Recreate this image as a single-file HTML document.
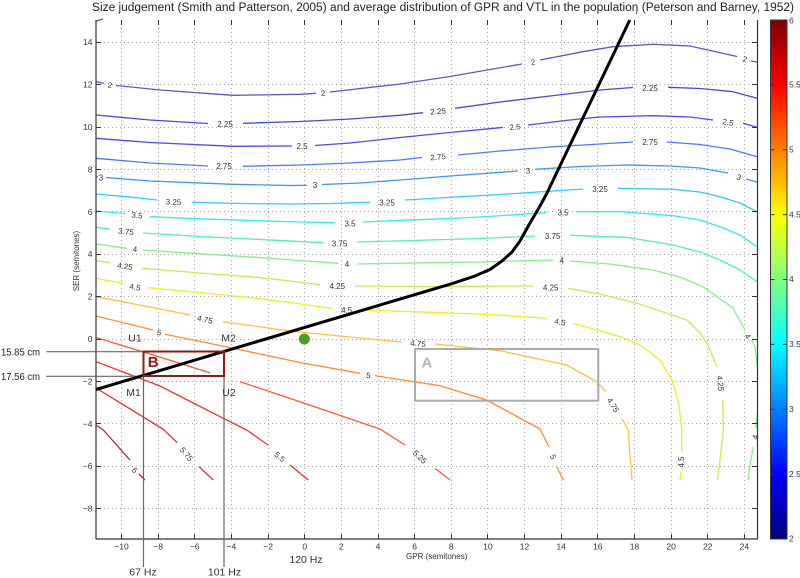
<!DOCTYPE html>
<html><head><meta charset="utf-8"><style>
html,body{margin:0;padding:0;background:#fff;}
svg{display:block;}
text{font-family:"Liberation Sans",sans-serif;}
.t{font-size:8.5px;fill:#333;}
.cl{font-size:8px;fill:#333;}
.c{fill:none;stroke-width:1.3;stroke-linejoin:round;}
</style></head><body>
<svg width="800" height="578" viewBox="0 0 800 578" xmlns="http://www.w3.org/2000/svg">
<defs>
<linearGradient id="jet" x1="0" y1="1" x2="0" y2="0">
<stop offset="0" stop-color="#000080"/>
<stop offset="0.125" stop-color="#0000ff"/>
<stop offset="0.375" stop-color="#00ffff"/>
<stop offset="0.625" stop-color="#ffff00"/>
<stop offset="0.875" stop-color="#ff0000"/>
<stop offset="1" stop-color="#800000"/>
</linearGradient>
</defs>
<rect width="800" height="578" fill="#fff"/>

<!-- title -->
<text x="92" y="11" font-size="11.5" fill="#222" textLength="702" lengthAdjust="spacingAndGlyphs">Size judgement (Smith and Patterson, 2005) and average distribution of GPR and VTL in the population (Peterson and Barney, 1952)</text>

<!-- grid -->
<g stroke="#a8a8a8" stroke-width="1" stroke-dasharray="1 3">
<line x1="121.5" y1="20" x2="121.5" y2="539"/>
<line x1="158.5" y1="20" x2="158.5" y2="539"/>
<line x1="194.5" y1="20" x2="194.5" y2="539"/>
<line x1="231.5" y1="20" x2="231.5" y2="539"/>
<line x1="268.5" y1="20" x2="268.5" y2="539"/>
<line x1="304.5" y1="20" x2="304.5" y2="539"/>
<line x1="341.5" y1="20" x2="341.5" y2="539"/>
<line x1="378.5" y1="20" x2="378.5" y2="539"/>
<line x1="414.5" y1="20" x2="414.5" y2="539"/>
<line x1="451.5" y1="20" x2="451.5" y2="539"/>
<line x1="487.5" y1="20" x2="487.5" y2="539"/>
<line x1="524.5" y1="20" x2="524.5" y2="539"/>
<line x1="561.5" y1="20" x2="561.5" y2="539"/>
<line x1="597.5" y1="20" x2="597.5" y2="539"/>
<line x1="634.5" y1="20" x2="634.5" y2="539"/>
<line x1="671.5" y1="20" x2="671.5" y2="539"/>
<line x1="707.5" y1="20" x2="707.5" y2="539"/>
<line x1="744.5" y1="20" x2="744.5" y2="539"/>
<line x1="96" y1="42.5" x2="757" y2="42.5"/>
<line x1="96" y1="84.5" x2="757" y2="84.5"/>
<line x1="96" y1="127.5" x2="757" y2="127.5"/>
<line x1="96" y1="169.5" x2="757" y2="169.5"/>
<line x1="96" y1="211.5" x2="757" y2="211.5"/>
<line x1="96" y1="254.5" x2="757" y2="254.5"/>
<line x1="96" y1="296.5" x2="757" y2="296.5"/>
<line x1="96" y1="339.5" x2="757" y2="339.5"/>
<line x1="96" y1="381.5" x2="757" y2="381.5"/>
<line x1="96" y1="423.5" x2="757" y2="423.5"/>
<line x1="96" y1="466.5" x2="757" y2="466.5"/>
<line x1="96" y1="508.5" x2="757" y2="508.5"/>
</g>

<!-- contours -->
<g class="c">
<polyline stroke="#5a5ac0" points="96,21 103,19"/>
<!-- 2 -->
<polyline stroke="#5a5ac0" points="96,81.7 104,83.3"/>
<polyline stroke="#5a5ac0" points="116,85.5 160,90 233,95.3 300,94.3 316,93.3"/>
<polyline stroke="#5a5ac0" points="330,92 400,84 450,76.5 490,69.5 522,64"/>
<polyline stroke="#5a5ac0" points="540,60 583,51.7 613,46.7 653,44.3 690,46 737,56.5"/>
<polyline stroke="#5a5ac0" points="751,61 757,62"/>
<!-- 2.25 -->
<polyline stroke="#4848d8" points="96,115 150,120 208,123.5"/>
<polyline stroke="#4848d8" points="243,123.3 300,121.5 350,119 400,115.3 423,112.7"/>
<polyline stroke="#4848d8" points="455,108.3 500,102 550,96 600,90 633,87.5"/>
<polyline stroke="#4848d8" points="668,87.3 700,88.5 733,91.7 757,98.3"/>
<!-- 2.5 -->
<polyline stroke="#4a4af2" points="96,138.3 150,142.5 233,146.3 292,146"/>
<polyline stroke="#4a4af2" points="315,145.5 350,143 400,137.5 450,132.5 500,127.7 503,127.5"/>
<polyline stroke="#4a4af2" points="528,125 570,120 600,117 653,115.7 690,117 713,120"/>
<polyline stroke="#4a4af2" points="743,123.3 757,127.3"/>
<!-- 2.75 -->
<polyline stroke="#4a78ff" points="96,158.3 150,163 208,166"/>
<polyline stroke="#4a78ff" points="243,166.3 300,165 350,163 400,160 422,157.5"/>
<polyline stroke="#4a78ff" points="458,155 500,151 550,147 600,144 633,142"/>
<polyline stroke="#4a78ff" points="667,142 700,144.5 730,149 757,156.7"/>
<!-- 3 -->
<polyline stroke="#3a94ff" points="96,176.5 98,176.7"/>
<polyline stroke="#3a94ff" points="106,177.5 150,181 233,184.3 290,185.5 307,185.3"/>
<polyline stroke="#3a94ff" points="322,184.5 360,183 400,180 450,176 518,171"/>
<polyline stroke="#3a94ff" points="535,169.3 580,166.5 627,165 670,166 700,168 728,173"/>
<polyline stroke="#3a94ff" points="746,179 757,182"/>
<!-- 3.25 -->
<polyline stroke="#30c8ff" points="96,194 130,197 157,200"/>
<polyline stroke="#30c8ff" points="191.7,202.3 240,203.5 290,204 330,203.5 370,202.3"/>
<polyline stroke="#30c8ff" points="405,200 430,198.5 500,194.5 583,189"/>
<polyline stroke="#30c8ff" points="618,188.3 673,189.3 700,192 720,196.7 740,203 757,211.7"/>
<!-- 3.5 -->
<polyline stroke="#30ecf0" points="96,211 125,213.5"/>
<polyline stroke="#30ecf0" points="150,216.7 200,218.8 256.7,220.7 300,222 335,222.8"/>
<polyline stroke="#30ecf0" points="363,222 400,220.3 430,219.3 480,217 546.7,212.7"/>
<polyline stroke="#30ecf0" points="577,211.7 620,211.7 673,215.7 700,220 720,226.7 740,235 757,246.7"/>
<!-- 3.75 -->
<polyline stroke="#50eec0" points="96,227.3 110,229"/>
<polyline stroke="#50eec0" points="143,233 200,236.5 256.7,239.3 323,242.7"/>
<polyline stroke="#50eec0" points="357,242 430,240 480,238.5 535,236"/>
<polyline stroke="#50eec0" points="570,235.3 627,237.3 673,245 700,252 720,260 740,270 757,281.7"/>
<!-- 4 -->
<polyline stroke="#88ee88" points="96,244 127,248.3"/>
<polyline stroke="#88ee88" points="143,250 200,253.8 256.7,257.3 300,260.5 338,263.3"/>
<polyline stroke="#88ee88" points="357,264 430,262.7 480,262 553,260"/>
<polyline stroke="#88ee88" points="570,261 610,264 653,270 680,277 703,286.7 733,308 745,330"/>
<polyline stroke="#88ee88" points="751.7,340 755,346.7 757.5,366.7"/>
<polyline stroke="#88ee88" points="757.5,413 756,428"/>
<polyline stroke="#88ee88" points="753.3,446.7 750,465 748,480"/>
<!-- 4.25 -->
<polyline stroke="#c4ee50" points="96,260.7 110,262.7"/>
<polyline stroke="#c4ee50" points="142,268.3 200,273 256.7,277.3 290,281 320,284.7"/>
<polyline stroke="#c4ee50" points="355,286 430,286.7 480,286.3 533,286"/>
<polyline stroke="#c4ee50" points="568,288.3 600,294 637,303.3 687,320 700,333 708,345 717,367"/>
<polyline stroke="#c4ee50" points="722.7,400 723.3,430 720,460 717.5,480"/>
<!-- 4.5 -->
<polyline stroke="#f2ee20" points="96,278.3 123,283.3"/>
<polyline stroke="#f2ee20" points="148,287.7 200,292.5 256.7,298.3 290,302.5 333,308.5"/>
<polyline stroke="#f2ee20" points="360,310 430,312.3 490,314.5 547,318.3"/>
<polyline stroke="#f2ee20" points="573,323.3 620,336.5 640,345 660,360 672,380 679,405 681.7,430 681.7,452"/>
<polyline stroke="#f2ee20" points="681,472 680,480"/>
<!-- 4.75 -->
<polyline stroke="#ffc040" points="96,296.7 150,307 190,315"/>
<polyline stroke="#ffc040" points="223,321.7 290,331 350,337 401.7,342"/>
<polyline stroke="#ffc040" points="435,344 500,350.7 566.7,365 596.7,381.7 606,391.7"/>
<polyline stroke="#ffc040" points="622,419 628.3,430 630,455 632,480"/>
<!-- 5 -->
<polyline stroke="#ff8c30" points="96,316 153,330"/>
<polyline stroke="#ff8c30" points="165,334.3 233.3,348.3 300,362.5 360,373.3"/>
<polyline stroke="#ff8c30" points="375,375.7 440,385.7 486.7,400 540,429 549,447"/>
<polyline stroke="#ff8c30" points="556.7,466.7 563.3,480"/>
<!-- 5.25 -->
<polyline stroke="#ff5a3a" points="96,337.5 150,354 210,372.7"/>
<polyline stroke="#ff5a3a" points="240,381.7 300,401.7 380,429 405,445"/>
<polyline stroke="#ff5a3a" points="435,468.3 450,480"/>
<!-- 5.5 -->
<polyline stroke="#f03030" points="96,361.7 160,386 223.3,418.3 246.7,430 268,445"/>
<polyline stroke="#f03030" points="290,465 308.3,480"/>
<!-- 5.75 -->
<polyline stroke="#d83030" points="96,388 163.3,429.3 177.3,442.7"/>
<polyline stroke="#d83030" points="199,466.7 213.3,480"/>
<!-- 6 -->
<polyline stroke="#b03030" points="96,425 103.3,430 130,460"/>
<polyline stroke="#b03030" points="139,474 145,480"/>
</g>

<!-- contour labels -->
<g class="cl" text-anchor="middle">
<text transform="translate(110,85) rotate(8)" dy="3">2</text>
<text transform="translate(323,93) rotate(-3)" dy="3">2</text>
<text transform="translate(533,62) rotate(-10)" dy="3">2</text>
<text transform="translate(745,59) rotate(15)" dy="3">2</text>
<text transform="translate(225,124)" dy="3">2.25</text>
<text transform="translate(438,111) rotate(-5)" dy="3">2.25</text>
<text transform="translate(650,88)" dy="3">2.25</text>
<text transform="translate(302,146)" dy="3">2.5</text>
<text transform="translate(515,126.7) rotate(-5)" dy="3">2.5</text>
<text transform="translate(728,122) rotate(10)" dy="3">2.5</text>
<text transform="translate(224,166)" dy="3">2.75</text>
<text transform="translate(438,156.7) rotate(-5)" dy="3">2.75</text>
<text transform="translate(650,142)" dy="3">2.75</text>
<text transform="translate(101,177.5)" dy="3">3</text>
<text transform="translate(315,185)" dy="3">3</text>
<text transform="translate(528,170.5) rotate(-4)" dy="3">3</text>
<text transform="translate(739,177) rotate(18)" dy="3">3</text>
<text transform="translate(173.5,201.7) rotate(3)" dy="3">3.25</text>
<text transform="translate(387,202.3)" dy="3">3.25</text>
<text transform="translate(600,189)" dy="3">3.25</text>
<text transform="translate(137,215) rotate(5)" dy="3">3.5</text>
<text transform="translate(350,223.3)" dy="3">3.5</text>
<text transform="translate(563,212.7)" dy="3">3.5</text>
<text transform="translate(126,231.3) rotate(5)" dy="3">3.75</text>
<text transform="translate(339.5,243.3)" dy="3">3.75</text>
<text transform="translate(552.7,236)" dy="3">3.75</text>
<text transform="translate(135,249) rotate(5)" dy="3">4</text>
<text transform="translate(347,264)" dy="3">4</text>
<text transform="translate(561.7,260.7)" dy="3">4</text>
<text transform="translate(748,336) rotate(60)" dy="3">4</text>
<text transform="translate(755,437) rotate(-80)" dy="3">4</text>
<text transform="translate(125,266) rotate(8)" dy="3">4.25</text>
<text transform="translate(337.3,286)" dy="3">4.25</text>
<text transform="translate(550.7,287.7)" dy="3">4.25</text>
<text transform="translate(720.7,383.3) rotate(85)" dy="3">4.25</text>
<text transform="translate(135,286.7) rotate(10)" dy="3">4.5</text>
<text transform="translate(346.7,310)" dy="3">4.5</text>
<text transform="translate(560,321.7) rotate(10)" dy="3">4.5</text>
<text transform="translate(681,462) rotate(-90)" dy="3">4.5</text>
<text transform="translate(205,319.3) rotate(12)" dy="3">4.75</text>
<text transform="translate(418,343.3) rotate(5)" dy="3">4.75</text>
<text transform="translate(613.3,405) rotate(60)" dy="3">4.75</text>
<text transform="translate(159.3,332.3) rotate(14)" dy="3">5</text>
<text transform="translate(368.3,375) rotate(10)" dy="3">5</text>
<text transform="translate(553.3,456.7) rotate(70)" dy="3">5</text>
<text transform="translate(420,456.7) rotate(45)" dy="3">5.25</text>
<text transform="translate(280,456.7) rotate(40)" dy="3">5.5</text>
<text transform="translate(186.7,454) rotate(50)" dy="3">5.75</text>
<text transform="translate(135,470) rotate(50)" dy="3">6</text>
</g>

<!-- axes frame -->
<g stroke="#333" stroke-width="1.2" fill="none">
<line x1="96" y1="20" x2="96" y2="539"/>
<line x1="96" y1="539" x2="758" y2="539"/>
<line x1="757.5" y1="20" x2="757.5" y2="539"/>
</g>
<!-- ticks -->
<g stroke="#333" stroke-width="1">
<path d="M121.5,539v-5M158.5,539v-5M194.5,539v-5M231.5,539v-5M268.5,539v-5M304.5,539v-5M341.5,539v-5M378.5,539v-5M414.5,539v-5M451.5,539v-5M487.5,539v-5M524.5,539v-5M561.5,539v-5M597.5,539v-5M634.5,539v-5M671.5,539v-5M707.5,539v-5M744.5,539v-5"/>
<path d="M121.5,20v5M158.5,20v5M194.5,20v5M231.5,20v5M268.5,20v5M304.5,20v5M341.5,20v5M378.5,20v5M414.5,20v5M451.5,20v5M487.5,20v5M524.5,20v5M561.5,20v5M597.5,20v5M634.5,20v5M671.5,20v5M707.5,20v5M744.5,20v5"/>
<path d="M96,42.5h5M96,84.5h5M96,127.5h5M96,169.5h5M96,211.5h5M96,254.5h5M96,296.5h5M96,339.5h5M96,381.5h5M96,423.5h5M96,466.5h5M96,508.5h5"/>
<path d="M757,42.5h-5M757,84.5h-5M757,127.5h-5M757,169.5h-5M757,211.5h-5M757,254.5h-5M757,296.5h-5M757,339.5h-5M757,381.5h-5M757,423.5h-5M757,466.5h-5M757,508.5h-5"/>
</g>

<!-- tick labels -->
<g class="t" text-anchor="middle">
<text x="121.5" y="549.5">−10</text>
<text x="158.1" y="549.5">−8</text>
<text x="194.8" y="549.5">−6</text>
<text x="231.4" y="549.5">−4</text>
<text x="268.1" y="549.5">−2</text>
<text x="304.7" y="549.5">0</text>
<text x="341.3" y="549.5">2</text>
<text x="378" y="549.5">4</text>
<text x="414.6" y="549.5">6</text>
<text x="451.3" y="549.5">8</text>
<text x="487.9" y="549.5">10</text>
<text x="524.5" y="549.5">12</text>
<text x="561.2" y="549.5">14</text>
<text x="597.8" y="549.5">16</text>
<text x="634.5" y="549.5">18</text>
<text x="671.1" y="549.5">20</text>
<text x="707.7" y="549.5">22</text>
<text x="744.4" y="549.5">24</text>
</g>
<g class="t" text-anchor="end">
<text x="92.5" y="45.2">14</text>
<text x="92.5" y="87.6">12</text>
<text x="92.5" y="130">10</text>
<text x="92.5" y="172.4">8</text>
<text x="92.5" y="214.8">6</text>
<text x="92.5" y="257.2">4</text>
<text x="92.5" y="299.6">2</text>
<text x="92.5" y="342">0</text>
<text x="92.5" y="384.4">−2</text>
<text x="92.5" y="426.8">−4</text>
<text x="92.5" y="469.2">−6</text>
<text x="92.5" y="511.6">−8</text>
</g>
<text x="436.7" y="559" font-size="8" fill="#333" text-anchor="middle">GPR (semitones)</text>
<text transform="translate(79,261) rotate(-90)" font-size="8" fill="#333" text-anchor="middle">SER (semitones)</text>

<!-- colorbar -->
<rect x="770.5" y="20" width="16.5" height="519" fill="url(#jet)" stroke="#333" stroke-width="1"/>
<g stroke="#333" stroke-width="1">
<path d="M770.5,474.1h4M770.5,409.3h4M770.5,344.4h4M770.5,279.5h4M770.5,214.6h4M770.5,149.8h4M770.5,84.9h4"/>
<path d="M787,474.1h-4M787,409.3h-4M787,344.4h-4M787,279.5h-4M787,214.6h-4M787,149.8h-4M787,84.9h-4"/>
</g>
<g class="t">
<text x="789" y="541.5">2</text>
<text x="789" y="477">2.5</text>
<text x="789" y="412">3</text>
<text x="789" y="347">3.5</text>
<text x="789" y="282">4</text>
<text x="789" y="217.5">4.5</text>
<text x="789" y="152.5">5</text>
<text x="789" y="87.5">5.5</text>
<text x="789" y="23.5">6</text>
</g>

<!-- A box -->
<rect x="415" y="349" width="183.3" height="51.7" fill="none" stroke="#aaaaaa" stroke-width="2"/>
<text x="421.5" y="367.7" font-size="15" font-weight="bold" fill="#b4b4b4">A</text>

<!-- annotation lines -->
<g stroke="#666" stroke-width="1.2">
<line x1="46.5" y1="351.7" x2="143.5" y2="351.7"/>
<line x1="46" y1="376.3" x2="143.5" y2="376.3"/>
<line x1="143.5" y1="351" x2="143.5" y2="567"/>
<line x1="224" y1="376" x2="224" y2="567"/>
</g>

<!-- black line -->
<polyline fill="none" stroke="#000" stroke-width="3" stroke-linejoin="round" points="96,389.5 453,283.3 475,276 490,269.5 502,261 512,252 520,241 530,223 540,206 547,193 629.8,20"/>
<line x1="637" y1="7" x2="636.6" y2="14" stroke="#333" stroke-width="0.8"/>

<!-- B box -->
<rect x="143.5" y="351.5" width="80.5" height="24.5" fill="none" stroke="#8b1a1a" stroke-width="2"/>
<text x="147.8" y="367" font-size="15" font-weight="bold" fill="#8b1a1a">B</text>

<!-- green dot -->
<circle cx="304.3" cy="339" r="5.5" fill="#4a9c28"/>

<!-- annotation text -->
<g font-size="10" fill="#222">
<text x="1" y="355.3" textLength="39" lengthAdjust="spacingAndGlyphs">15.85 cm</text>
<text x="1" y="380" textLength="39" lengthAdjust="spacingAndGlyphs">17.56 cm</text>
</g>
<g font-size="10.5" fill="#333" text-anchor="middle">
<text x="135" y="341.5">U1</text>
<text x="228.5" y="341.5">M2</text>
<text x="133.5" y="396">M1</text>
<text x="229" y="396">U2</text>
<text x="143" y="575.5">67 Hz</text>
<text x="224.5" y="575.5">101 Hz</text>
<text x="306" y="563">120 Hz</text>
</g>
</svg>
</body></html>
